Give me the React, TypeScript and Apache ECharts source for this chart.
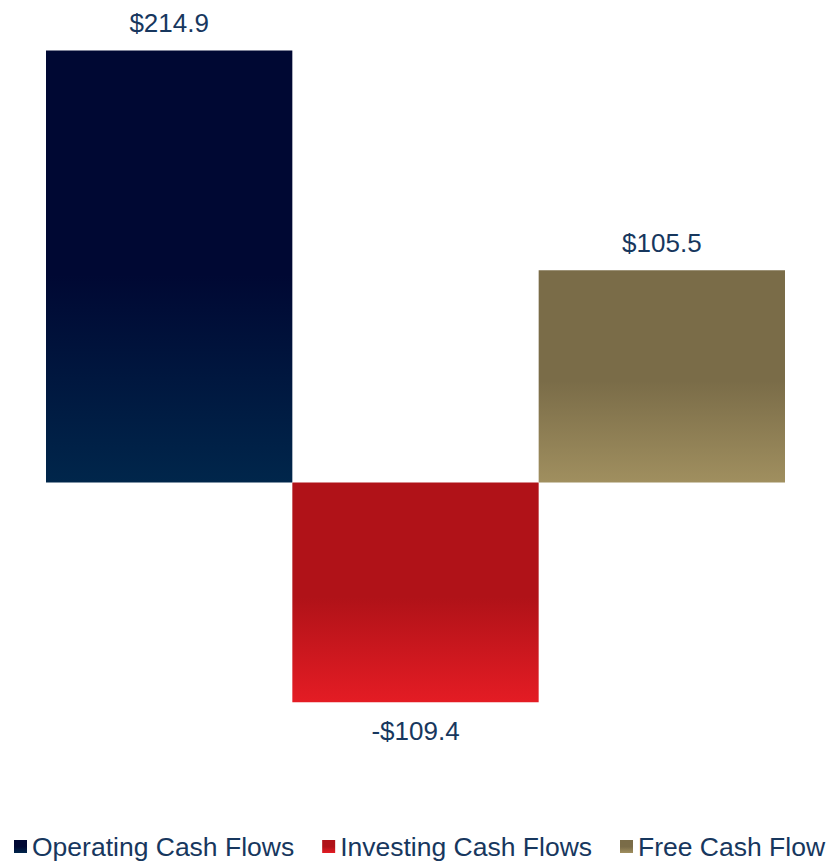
import React, { useEffect, useRef } from "react";
import * as echarts from "echarts";

const categories = ["Operating Cash Flows", "Investing Cash Flows", "Free Cash Flow"];
const values = [214.9, -109.4, 105.5];
const gradients = [
  ["#000833", "#000833", "#00264b"],
  ["#b01218", "#b01218", "#e41c24"],
  ["#7a6c48", "#7a6c48", "#a08f5f"],
];

const FONT = "'Liberation Sans', Arial, sans-serif";
const TEXT_COLOR = "#17375e";

export default function App() {
  const ref = useRef<HTMLDivElement>(null);
  useEffect(() => {
    if (!ref.current) return;
    const chart = echarts.init(ref.current, undefined, { renderer: "svg" });
    const series = categories.map((name, i) => ({
      name,
      type: "bar",
      barWidth: "100%",
      barGap: "-100%",
      data: categories.map((_, j) => (j === i ? values[i] : null)),
      itemStyle: {
        color: new echarts.graphic.LinearGradient(0, 0, 0, 1, [
          { offset: 0, color: gradients[i][0] },
          { offset: 0.52, color: gradients[i][1] },
          { offset: 1, color: gradients[i][2] },
        ]),
      },
      label: {
        show: true,
        position: values[i] < 0 ? "bottom" : "top",
        distance: values[i] < 0 ? 16 : 14,
        fontFamily: FONT,
        fontSize: 26,
        color: TEXT_COLOR,
        formatter: (p: any) =>
          (p.value < 0 ? "-$" : "$") + Math.abs(p.value).toFixed(1),
      },
    }));
    chart.setOption({
      animation: false,
      grid: { left: 46, width: 739, top: 0, height: 804 },
      xAxis: { type: "category", data: categories, show: false },
      yAxis: { type: "value", min: -160, max: 240, show: false },
      legend: {
        data: categories,
        left: 9,
        top: 828,
        itemWidth: 13,
        itemHeight: 13,
        itemGap: 28,
        icon: "rect",
        textStyle: { fontFamily: FONT, fontSize: 26.5, lineHeight: 26, color: TEXT_COLOR },
      },
      series,
    });
    return () => chart.dispose();
  }, []);
  return (
    <div
      ref={ref}
      style={{ position: "fixed", left: 0, top: 0, width: 831, height: 862, background: "#fff" }}
    />
  );
}
